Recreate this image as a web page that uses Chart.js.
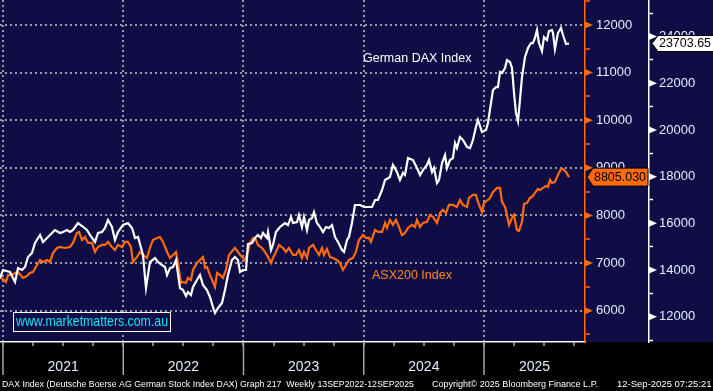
<!DOCTYPE html>
<html>
<head>
<meta charset="utf-8">
<title>DAX vs ASX200</title>
<script src="https://cdn.jsdelivr.net/npm/chart.js@4/dist/chart.umd.min.js"></script>
<style>
  html, body { margin: 0; padding: 0; background: #000; }
  canvas { display: block; }
</style>
</head>
<body>
<canvas id="chart" width="713" height="391"></canvas>
<script>
// ---------------------------------------------------------------------------
// Data (weekly-ish). Dates are decimal years.
// ---------------------------------------------------------------------------
const daxDates = [
  2020.975, 2021.000, 2021.058, 2021.100, 2021.125, 2021.158, 2021.183, 2021.208, 2021.241, 2021.266,
  2021.308, 2021.333, 2021.366, 2021.391, 2021.432, 2021.474, 2021.499, 2021.532, 2021.557, 2021.582,
  2021.624, 2021.657, 2021.698, 2021.723, 2021.765, 2021.790, 2021.823, 2021.848, 2021.873, 2021.906,
  2021.931, 2021.956, 2021.998,
  2022.039, 2022.073, 2022.098, 2022.123, 2022.148, 2022.164, 2022.189, 2022.222, 2022.264, 2022.289,
  2022.322, 2022.347, 2022.364, 2022.389, 2022.414, 2022.439, 2022.472, 2022.497, 2022.522, 2022.538,
  2022.563, 2022.580, 2022.613, 2022.638, 2022.663, 2022.696, 2022.721, 2022.746, 2022.763, 2022.788,
  2022.821, 2022.846, 2022.871, 2022.904, 2022.929, 2022.954, 2022.971, 2022.996,
  2023.021, 2023.037, 2023.071, 2023.096, 2023.120, 2023.145, 2023.162, 2023.195, 2023.204, 2023.229,
  2023.245, 2023.270, 2023.303, 2023.345, 2023.370, 2023.395, 2023.412, 2023.445, 2023.461, 2023.486,
  2023.503, 2023.528, 2023.545, 2023.570, 2023.586, 2023.611, 2023.636, 2023.661, 2023.686, 2023.711,
  2023.736, 2023.761, 2023.786, 2023.819, 2023.836, 2023.861, 2023.877, 2023.902, 2023.927, 2023.969,
  2024.002, 2024.035, 2024.069, 2024.094, 2024.118, 2024.152, 2024.177, 2024.218, 2024.243, 2024.276,
  2024.301, 2024.326, 2024.343, 2024.368, 2024.409, 2024.443, 2024.468, 2024.493, 2024.526, 2024.543,
  2024.568, 2024.584, 2024.609, 2024.626, 2024.651, 2024.676, 2024.692, 2024.717, 2024.742, 2024.759,
  2024.775, 2024.800, 2024.825, 2024.859, 2024.884, 2024.908, 2024.933, 2024.950, 2024.983,
  2025.017, 2025.033, 2025.058, 2025.075, 2025.100, 2025.116, 2025.133, 2025.150, 2025.175, 2025.191,
  2025.216, 2025.233, 2025.249, 2025.266, 2025.283, 2025.299, 2025.316, 2025.341, 2025.366, 2025.391,
  2025.407, 2025.424, 2025.441, 2025.457, 2025.482, 2025.499, 2025.524, 2025.540, 2025.565, 2025.574,
  2025.590, 2025.615, 2025.640, 2025.657, 2025.682, 2025.707,
];
const daxValues = [
  13658, 14001, 13915, 13487, 14086, 14001, 14129, 14558, 14729, 15157,
  15500, 15200, 15372, 15500, 15714, 15586, 15629, 15714, 15629, 15714,
  16014, 15886, 15714, 15500, 15200, 15586, 15629, 15800, 16143, 15843,
  15286, 15629, 15928,
  16014, 15800, 15372, 15414, 14943, 14643, 13230, 14343, 14515, 14343,
  14215, 14129, 13786, 14086, 14129, 14429, 13230, 13144, 12887, 13058,
  12930, 13272, 13572, 13786, 13358, 13144, 12844, 12416, 12159, 12373,
  12587, 13144, 13786, 14429, 14558, 14429, 13915, 14001,
  14001, 15114, 15157, 15372, 15500, 15372, 15586, 15372, 15629, 14857,
  15072, 15629, 15843, 16014, 15928, 16271, 16014, 16057, 16357, 15843,
  16271, 15714, 16143, 16228, 16485, 16014, 15843, 15629, 15843, 15800,
  15928, 15414, 15200, 14857, 14772, 15286, 15414, 16014, 16785, 16785,
  16700, 16700, 16700, 16999, 16999, 17428, 17856, 17985, 18499, 18199,
  17856, 18156, 18070, 18799, 18713, 18370, 18070, 18285, 18499, 18713,
  18199, 18370, 17728, 17856, 18585, 18927, 18370, 18713, 18799, 19441,
  19227, 19698, 19570, 19270, 19227, 19570, 20127, 20427, 19913,
  19998, 20298, 21155, 21712, 21840, 21840, 22483, 22440, 22654, 22997,
  22911, 22654, 21626, 20727, 20384, 21283, 22269, 23126, 23511, 23725,
  23725, 23940, 24282, 23725, 23383, 23982, 23854, 24239, 24282, 24154,
  23468, 24154, 24368, 24068, 23683, 23703.65,
];

const asxDates = [
  2020.975, 2021.000, 2021.025, 2021.042, 2021.075, 2021.100, 2021.125, 2021.166, 2021.200, 2021.224,
  2021.249, 2021.283, 2021.308, 2021.333, 2021.366, 2021.391, 2021.416, 2021.449, 2021.474, 2021.516,
  2021.557, 2021.582, 2021.615, 2021.632, 2021.657, 2021.682, 2021.707, 2021.740, 2021.765, 2021.790,
  2021.823, 2021.848, 2021.873, 2021.906, 2021.931, 2021.956, 2021.990,
  2022.015, 2022.039, 2022.064, 2022.081, 2022.114, 2022.139, 2022.164, 2022.197, 2022.222, 2022.247,
  2022.281, 2022.306, 2022.331, 2022.364, 2022.389, 2022.414, 2022.439, 2022.455, 2022.480, 2022.497,
  2022.522, 2022.538, 2022.563, 2022.580, 2022.613, 2022.638, 2022.663, 2022.680, 2022.696, 2022.721,
  2022.746, 2022.763, 2022.780, 2022.805, 2022.829, 2022.854, 2022.879, 2022.913, 2022.929, 2022.954,
  2022.987, 2023.012,
  2023.037, 2023.054, 2023.079, 2023.104, 2023.120, 2023.154, 2023.179, 2023.204, 2023.229, 2023.245,
  2023.270, 2023.295, 2023.328, 2023.353, 2023.378, 2023.412, 2023.436, 2023.461, 2023.486, 2023.503,
  2023.528, 2023.545, 2023.578, 2023.603, 2023.628, 2023.653, 2023.669, 2023.694, 2023.719, 2023.744,
  2023.777, 2023.802, 2023.827, 2023.852, 2023.877, 2023.910, 2023.935, 2023.960, 2023.994,
  2024.019, 2024.044, 2024.060, 2024.094, 2024.118, 2024.152, 2024.177, 2024.193, 2024.218, 2024.243,
  2024.268, 2024.293, 2024.318, 2024.343, 2024.368, 2024.401, 2024.426, 2024.443, 2024.468, 2024.493,
  2024.526, 2024.551, 2024.576, 2024.609, 2024.634, 2024.659, 2024.684, 2024.709, 2024.742, 2024.775,
  2024.800, 2024.825, 2024.859, 2024.875, 2024.908, 2024.933, 2024.950, 2024.983,
  2025.000, 2025.033, 2025.050, 2025.075, 2025.108, 2025.133, 2025.150, 2025.175, 2025.191, 2025.208,
  2025.233, 2025.249, 2025.274, 2025.291, 2025.316, 2025.333, 2025.358, 2025.382, 2025.399, 2025.424,
  2025.449, 2025.466, 2025.491, 2025.516, 2025.532, 2025.549, 2025.565, 2025.590, 2025.615, 2025.640,
  2025.657, 2025.682, 2025.707,
];
const asxValues = [
  6687, 6666, 6603, 6750, 6750, 6792, 6813, 6687, 6729, 6792,
  6813, 6960, 7065, 7023, 7065, 7023, 7212, 7317, 7338, 7317,
  7338, 7422, 7632, 7653, 7485, 7548, 7422, 7422, 7233, 7338,
  7380, 7380, 7443, 7338, 7275, 7380, 7338,
  7443, 7443, 7338, 7023, 7128, 7233, 7170, 7107, 7317, 7485,
  7527, 7548, 7443, 7233, 7107, 7170, 7233, 7002, 6582, 6603,
  6582, 6687, 6645, 6855, 7002, 7065, 7128, 6897, 6918, 6750,
  6603, 6498, 6792, 6750, 6687, 6855, 7170, 7275, 7317, 7233,
  7128, 7065,
  7233, 7422, 7527, 7485, 7380, 7317, 7233, 7128, 7002, 7107,
  7233, 7380, 7317, 7233, 7317, 7170, 7170, 7275, 7107, 7233,
  7107, 7317, 7380, 7275, 7170, 7317, 7170, 7296, 7128, 7107,
  7065, 7002, 6855, 6960, 7065, 7107, 7233, 7485, 7590,
  7527, 7527, 7443, 7695, 7653, 7653, 7843, 7738, 7906, 7801,
  7906, 7758, 7590, 7632, 7738, 7801, 7758, 7906, 7758, 7843,
  7864, 8011, 7969, 7843, 8053, 8116, 8053, 8221, 8221, 8179,
  8326, 8221, 8179, 8368, 8431, 8431, 8284, 8074,
  8263, 8326, 8368, 8494, 8578, 8578, 8284, 8179, 8011, 7801,
  7948, 8011, 7695, 7674, 7864, 8242, 8263, 8368, 8389, 8473,
  8557, 8536, 8578, 8620, 8599, 8746, 8683, 8704, 8851, 8977,
  8977, 8914, 8805.03,
];

const yearLabels = ['2021', '2022', '2023', '2024', '2025'];

// axis ranges as shown on the reference
const X_MIN = 2020.975, X_MAX = 2025.84;
const ASX_MIN = 5342, ASX_MAX = 12525;
const DAX_MIN = 10916, DAX_MAX = 25569;

const COLORS = {
  navy: '#100d46',
  orange: '#ff6a0d',
  orangeText: '#ff8a1e',
  white: '#ffffff',
  grid: '#9a9aa4',
  tickText: '#e2ecff',
  sep: '#a8a8a8',
  cyan: '#16e4f7',
};
const FONT = '"Liberation Sans", Arial, sans-serif';

function toPoints(xs, ys) {
  return xs.map((x, i) => ({ x, y: ys[i] }));
}

// Chart.js snaps stepSize ticks to min/max when the range is "almost whole",
// so build the round-number ticks ourselves.
function stepTicks(step) {
  return scale => {
    const ticks = [];
    for (let v = Math.ceil(scale.min / step) * step; v <= scale.max; v += step) ticks.push({ value: v });
    scale.ticks = ticks;
  };
}

function drawText(ctx, str, x, y, font, color, maxWidth, baseline) {
  ctx.font = font;
  ctx.fillStyle = color;
  ctx.textAlign = 'left';
  ctx.textBaseline = baseline || 'middle';
  ctx.fillText(str, x, y, maxWidth);
}

// right-pointing markers on the major ticks of a y axis
function drawArrows(ctx, scale, every, color) {
  ctx.fillStyle = color;
  scale.ticks.forEach(t => {
    if (t.value % every !== 0) return;
    const y = scale.getPixelForValue(t.value);
    ctx.beginPath();
    ctx.moveTo(scale.left, y - 3.5);
    ctx.lineTo(scale.left + 8, y);
    ctx.lineTo(scale.left, y + 3.5);
    ctx.closePath();
    ctx.fill();
  });
}

// last-value tag with a notch pointing at the axis
function drawTag(ctx, xTip, xEnd, y, h, fill, label) {
  ctx.beginPath();
  ctx.moveTo(xTip, y);
  ctx.lineTo(xTip + 6, y - h / 2);
  ctx.lineTo(xEnd, y - h / 2);
  ctx.lineTo(xEnd, y + h / 2);
  ctx.lineTo(xTip + 6, y + h / 2);
  ctx.closePath();
  ctx.fillStyle = fill;
  ctx.fill();
  ctx.strokeStyle = '#000';
  ctx.lineWidth = 1;
  ctx.stroke();
  drawText(ctx, label, xTip + 7, y + 0.5, '12.5px ' + FONT, '#000', 52);
}

const decor = {
  id: 'decor',
  beforeDraw(chart) {
    const { ctx, chartArea } = chart;
    ctx.save();
    ctx.fillStyle = '#000';
    ctx.fillRect(0, 0, chart.width, chart.height);
    ctx.fillStyle = COLORS.navy;
    ctx.fillRect(0, 0, chart.width, chartArea.bottom);
    ctx.restore();
  },
  afterDraw(chart) {
    const { ctx, chartArea, scales } = chart;
    const { x, asx, dax } = scales;
    ctx.save();

    // year separators below the time axis
    ctx.strokeStyle = COLORS.sep;
    ctx.lineWidth = 1.5;
    x.ticks.forEach(t => {
      if (t.yearLabel || !Number.isInteger(t.value)) return;
      const px = x.getPixelForValue(t.value);
      ctx.beginPath();
      ctx.moveTo(px, chartArea.bottom + 1);
      ctx.lineTo(px, chartArea.bottom + 33);
      ctx.stroke();
    });

    drawArrows(ctx, asx, 1000, COLORS.orange);
    drawArrows(ctx, dax, 2000, COLORS.white);

    // series names
    drawText(ctx, 'German DAX Index', 363, 59, '12.5px ' + FONT, COLORS.white, 111);
    drawText(ctx, 'ASX200 Index', 372, 276, '12.5px ' + FONT, COLORS.orangeText, 81);

    // watermark
    ctx.fillStyle = COLORS.navy;
    ctx.fillRect(13.5, 312.5, 157, 19);
    ctx.strokeStyle = COLORS.white;
    ctx.lineWidth = 1;
    ctx.strokeRect(13.5, 312.5, 157, 19);
    drawText(ctx, 'www.marketmatters.com.au', 16, 322, '15px ' + FONT, COLORS.cyan, 152);

    // last value tags
    const daxLast = daxValues[daxValues.length - 1];
    const asxLast = asxValues[asxValues.length - 1];
    drawTag(ctx, dax.left + 3, chart.width + 2, dax.getPixelForValue(daxLast), 16, COLORS.white, daxLast.toFixed(2));
    drawTag(ctx, asx.left + 2, dax.left - 1, asx.getPixelForValue(asxLast), 18, COLORS.orange, asxLast.toFixed(3));

    // footer
    const foot = '9.5px ' + FONT;
    drawText(ctx, 'DAX Index (Deutsche Boerse AG German Stock Index DAX) Graph 217  Weekly 13SEP2022-12SEP2025', 2, 387, foot, COLORS.white, 412, 'alphabetic');
    drawText(ctx, 'Copyright\u00A9 2025 Bloomberg Finance L.P.', 432, 387, foot, COLORS.white, 166, 'alphabetic');
    drawText(ctx, '12-Sep-2025 07:25:21', 617, 387, foot, COLORS.white, 95, 'alphabetic');

    ctx.restore();
  },
};

function dotted(ok) {
  return ok ? COLORS.grid : 'transparent';
}

new Chart(document.getElementById('chart'), {
  type: 'line',
  data: {
    datasets: [
      {
        label: 'German DAX Index',
        data: toPoints(daxDates, daxValues),
        yAxisID: 'dax',
        borderColor: COLORS.white,
        borderWidth: 2.2,
        pointRadius: 0,
        tension: 0,
      },
      {
        label: 'ASX200 Index',
        data: toPoints(asxDates, asxValues),
        yAxisID: 'asx',
        borderColor: COLORS.orange,
        borderWidth: 2.2,
        pointRadius: 0,
        tension: 0,
      },
    ],
  },
  options: {
    responsive: false,
    animation: false,
    layout: { padding: 0 },
    plugins: { legend: { display: false }, tooltip: { enabled: false } },
    scales: {
      x: {
        type: 'linear',
        min: X_MIN,
        max: X_MAX,
        afterBuildTicks(scale) {
          const ticks = [];
          for (let q = Math.ceil(scale.min * 4) / 4; q <= scale.max; q += 0.25) ticks.push({ value: q });
          yearLabels.forEach(y => {
            const a = Math.max(+y, scale.min);
            const b = Math.min(+y + 1, scale.max);
            ticks.push({ value: (a + b) / 2, yearLabel: y });
          });
          ticks.sort((p, q) => p.value - q.value);
          scale.ticks = ticks;
        },
        afterFit(scale) {
          scale.height = 49;
          scale.paddingLeft = 0;
          scale.paddingRight = 0;
        },
        grid: {
          color: c => dotted(c.tick && !c.tick.yearLabel && Number.isInteger(c.tick.value)),
          tickColor: c => (c.tick && c.tick.yearLabel ? 'transparent' : COLORS.white),
          lineWidth: 2,
          tickWidth: 1,
          tickLength: 4,
        },
        border: { color: COLORS.white, width: 1.5, dash: [2, 3] },
        ticks: {
          autoSkip: false,
          maxRotation: 0,
          padding: 13,
          color: COLORS.tickText,
          font: { family: FONT, size: 14 },
          callback: (v, i, ticks) => ticks[i].yearLabel || '',
        },
      },
      asx: {
        type: 'linear',
        position: 'right',
        min: ASX_MIN,
        max: ASX_MAX,
        afterBuildTicks: stepTicks(500),
        afterFit(scale) {
          scale.width = 64;
          scale.paddingTop = 0;
          scale.paddingBottom = 0;
        },
        grid: {
          color: c => dotted(c.tick && c.tick.value % 1000 === 0),
          tickColor: COLORS.orange,
          lineWidth: 2,
          tickWidth: 1.5,
          tickLength: 5,
        },
        border: { color: COLORS.orange, width: 1.5, dash: [2, 3] },
        ticks: {
          autoSkip: false,
          padding: 6,
          color: COLORS.tickText,
          font: { family: FONT, size: 13 },
          callback: v => (v % 1000 === 0 ? String(v) : ''),
        },
      },
      dax: {
        type: 'linear',
        position: 'right',
        min: DAX_MIN,
        max: DAX_MAX,
        afterBuildTicks: stepTicks(1000),
        afterFit(scale) {
          scale.width = 64;
          scale.paddingTop = 0;
          scale.paddingBottom = 0;
        },
        grid: {
          drawOnChartArea: false,
          tickColor: COLORS.white,
          tickWidth: 1.5,
          tickLength: 4,
        },
        border: { color: COLORS.white, width: 1.5 },
        ticks: {
          autoSkip: false,
          padding: 6,
          color: COLORS.tickText,
          font: { family: FONT, size: 13 },
          callback: v => (v % 2000 === 0 ? String(v) : ''),
        },
      },
    },
  },
  plugins: [decor],
});
</script>
</body>
</html>
